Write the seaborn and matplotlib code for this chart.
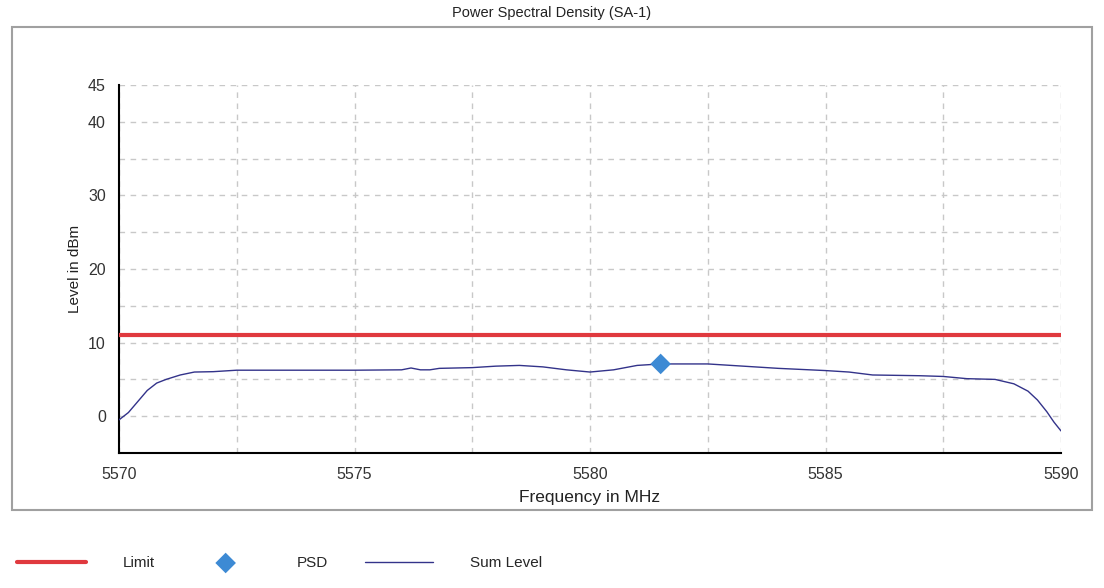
import numpy as np
import pandas as pd
import seaborn as sns
import matplotlib.pyplot as plt
from matplotlib.patches import Rectangle
from matplotlib.ticker import FixedLocator, FixedFormatter

plt.switch_backend('Agg')

# chart data
sum_freq = [5570.0, 5570.2, 5570.4, 5570.6, 5570.8, 5571.0, 5571.3, 5571.6, 5572.0,
            5572.5, 5575.0, 5576.0, 5576.2, 5576.4, 5576.6, 5576.8, 5577.5, 5578.0,
            5578.5, 5579.0, 5579.5, 5580.0, 5580.5, 5581.0, 5581.5, 5582.5, 5583.0,
            5583.5, 5584.0, 5585.0, 5585.5, 5586.0, 5587.0, 5587.5, 5588.0, 5588.6,
            5589.0, 5589.3, 5589.5, 5589.7, 5589.85, 5590.0]
sum_level = [-0.5, 0.5, 2.0, 3.5, 4.5, 5.0, 5.6, 6.0, 6.05,
             6.25, 6.25, 6.3, 6.55, 6.3, 6.3, 6.5, 6.6, 6.8,
             6.9, 6.7, 6.3, 6.0, 6.3, 6.9, 7.1, 7.1, 6.9,
             6.7, 6.5, 6.2, 6.0, 5.6, 5.5, 5.4, 5.1, 5.0,
             4.4, 3.4, 2.2, 0.6, -0.8, -2.0]
limit_freq = [5570, 5590]
limit_level = [11, 11]
psd_freq = [5581.5]
psd_level = [7.1]

y_ticks = [0, 5, 10, 15, 20, 25, 30, 35, 40, 45]
y_labels = ['0', '', '10', '', '20', '', '30', '', '40', '45']
x_ticks = [5570, 5572.5, 5575, 5577.5, 5580, 5582.5, 5585, 5587.5, 5590]
x_labels = ['5570', '', '5575', '', '5580', '', '5585', '', '5590']

sns.set_style('white')
plt.rcParams['font.family'] = ['Liberation Sans', 'DejaVu Sans']

fig = plt.figure(figsize=(11.04, 5.88), dpi=100)
ax = fig.add_axes([119 / 1104, 1 - 453 / 588, (1061 - 119) / 1104, (453 - 85) / 588])

# outer frame
fig.patches.append(Rectangle((12 / 1104, 1 - 510 / 588), 1080 / 1104, 483 / 588,
                             transform=fig.transFigure, fill=False,
                             edgecolor='#a0a0a0', linewidth=1.5))

limit_df = pd.DataFrame({'freq': limit_freq, 'level': limit_level})
sum_df = pd.DataFrame({'freq': sum_freq, 'level': sum_level})
psd_df = pd.DataFrame({'freq': psd_freq, 'level': psd_level})

sns.lineplot(data=limit_df, x='freq', y='level', ax=ax, color='#e0393e', linewidth=3,
             label='Limit', zorder=3)
sns.scatterplot(data=psd_df, x='freq', y='level', ax=ax, color='#3d8ad4', marker='D',
                s=110, edgecolor='none', label='PSD', zorder=5)
sns.lineplot(data=sum_df, x='freq', y='level', ax=ax, color='#33338a', linewidth=1,
             label='Sum Level', zorder=4)

ax.set_xlim(5570, 5590)
ax.set_ylim(-5, 45)
ax.xaxis.set_major_locator(FixedLocator(x_ticks))
ax.xaxis.set_major_formatter(FixedFormatter(x_labels))
ax.yaxis.set_major_locator(FixedLocator(y_ticks))
ax.yaxis.set_major_formatter(FixedFormatter(y_labels))
ax.tick_params(direction='inout', length=12, width=1.3, colors='black',
               labelsize=11.5, labelcolor='#333333')
ax.tick_params(axis='x', pad=4)
ax.grid(True, linestyle=(0, (4, 4)), color='#c8c8c8', linewidth=1)

for side in ['top', 'right']:
    ax.spines[side].set_visible(False)
for side in ['left', 'bottom']:
    ax.spines[side].set_color('black')
    ax.spines[side].set_linewidth(1.5)

ax.set_xlabel('Frequency in MHz', fontsize=12.5, color='#222222', labelpad=6)
ax.set_ylabel('Level in dBm', fontsize=11, color='#222222', labelpad=4)
fig.text(0.5, 1 - 13 / 588, 'Power Spectral Density (SA-1)', ha='center', va='center',
         fontsize=10.5, color='#222222')

ax.legend_.remove()
handles, labels = ax.get_legend_handles_labels()
fig.legend(handles, labels, loc='center left', bbox_to_anchor=(0.003, 1 - 563 / 588),
           ncol=3, frameon=False, fontsize=11, handlelength=4.5, handletextpad=2.4,
           columnspacing=2.4)

plt.savefig('out.png', dpi=100)
plt.close()
